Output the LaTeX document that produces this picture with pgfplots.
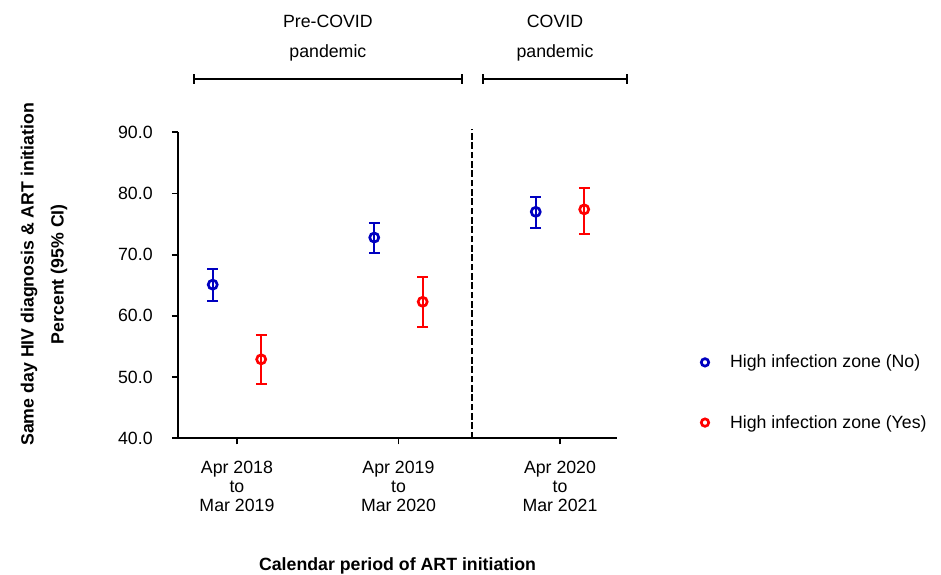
\documentclass[border=0pt]{standalone}
\usepackage{pgfplots}
\pgfplotsset{compat=1.18}
\usepackage{fontspec}
\setmainfont{Liberation Sans}
\usetikzlibrary{arrows.meta}
\definecolor{zoneno}{RGB}{0,0,192}
\definecolor{zoneyes}{RGB}{255,0,0}

\pgfplotstableread{
x    y    ep   em
0.85 65.1 2.6  2.6
1.85 72.8 2.4  2.6
2.85 77.0 2.4  2.6
}\zoneNo
\pgfplotstableread{
x    y    ep   em
1.15 52.9 4.0  4.1
2.15 62.3 4.0  4.2
3.15 77.4 3.5  4.0
}\zoneYes

\begin{document}
\begin{tikzpicture}
\path[use as bounding box] (-133.5pt,-102.5pt) rectangle (572.25pt,328.7pt);
\begin{axis}[
    at={(0,0)}, anchor=south west,
    scale only axis,
    width=329.25pt, height=229.5pt,
    xmin=0.635, xmax=3.353,
    ymin=40, ymax=90,
    clip=false,
    axis x line*=bottom, axis y line*=left,
    axis line style={-, line width=1.4pt},
    tick style={line width=1.4pt, black},
    tick align=outside,
    major tick length=4.5pt,
    xtick={1,2,3},
    xticklabels={{Apr 2018\\to\\Mar 2019},{Apr 2019\\to\\Mar 2020},{Apr 2020\\to\\Mar 2021}},
    xticklabel style={align=center, font=\fontsize{13.3}{14.3}\selectfont, yshift=-9pt},
    ytick={40,50,...,90},
    yticklabel style={font=\fontsize{13.3}{15}\selectfont, xshift=-11pt,
        /pgf/number format/.cd, fixed, fixed zerofill, precision=1, assume math mode=true},
    xlabel={Calendar period of ART initiation},
    xlabel style={at={(axis description cs:0.5,0)}, anchor=base, yshift=-99pt,
        font=\bfseries\fontsize{13.3}{15}\selectfont},
    ylabel={Same day HIV diagnosis \& ART initiation\\Percent (95\% CI)},
    ylabel style={at={(axis description cs:-0.305,0.536)}, anchor=center,
        align=center, font=\bfseries\fontsize{13.3}{22.5}\selectfont},
    legend style={draw=none, fill=none, at={(axis description cs:1,0)}, anchor=south west,
        xshift=60pt, yshift=2pt, font=\fontsize{13.3}{15}\selectfont,
        row sep=30pt, /tikz/every odd column/.append style={column sep=14pt}},
    legend cell align=left,
    legend image code/.code={\draw[#1, mark size=2.8pt] plot coordinates {(0.3cm,0cm)};},
]
\addplot[only marks, mark=o, mark size=3.4pt, line width=2pt, color=zoneno,
    error bars/.cd, y dir=both, y explicit,
    error bar style={line width=1.5pt, zoneno},
    error mark options={rotate=90, line width=1.5pt, mark size=4pt, zoneno}]
    table[x=x, y=y, y error plus=ep, y error minus=em] {\zoneNo};
\addlegendentry{High infection zone (No)}
\addplot[only marks, mark=o, mark size=3.4pt, line width=2pt, color=zoneyes,
    error bars/.cd, y dir=both, y explicit,
    error bar style={line width=1.5pt, zoneyes},
    error mark options={rotate=90, line width=1.5pt, mark size=4pt, zoneyes}]
    table[x=x, y=y, y error plus=ep, y error minus=em] {\zoneYes};
\addlegendentry{High infection zone (Yes)}
% period divider
\addplot[black, line width=1.5pt, dash pattern=on 5pt off 2pt, forget plot]
    coordinates {(2.458,40) (2.458,90.6)};
% period brackets and headings
\draw[line width=1.4pt, {Bar[width=7pt]}-{Bar[width=7pt]}] (axis cs:0.729,98.7) -- (axis cs:2.401,98.7);
\draw[line width=1.4pt, {Bar[width=7pt]}-{Bar[width=7pt]}] (axis cs:2.515,98.7) -- (axis cs:3.421,98.7);
\node[anchor=base, font=\fontsize{13.3}{15}\selectfont] at (axis cs:1.563,107.2) {Pre-COVID};
\node[anchor=base, font=\fontsize{13.3}{15}\selectfont] at (axis cs:1.563,102.2) {pandemic};
\node[anchor=base, font=\fontsize{13.3}{15}\selectfont] at (axis cs:2.969,107.2) {COVID};
\node[anchor=base, font=\fontsize{13.3}{15}\selectfont] at (axis cs:2.969,102.2) {pandemic};
\end{axis}
\end{tikzpicture}
\end{document}
